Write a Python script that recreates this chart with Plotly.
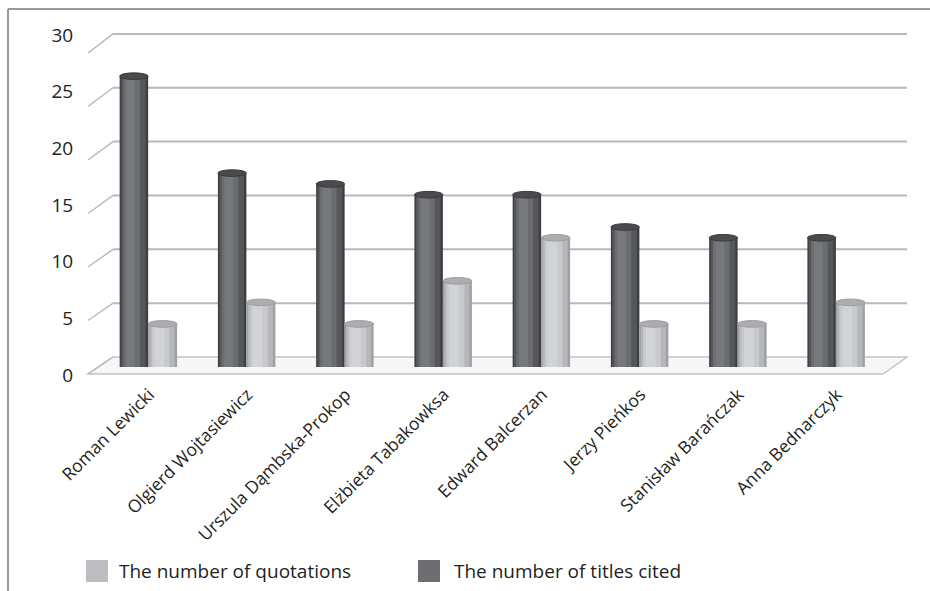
import plotly.graph_objects as go

authors = ["Roman Lewicki", "Olgierd Wojtasiewicz", "Urszula Dąmbska-Prokop",
           "Elżbieta Tabakowksa", "Edward Balcerzan", "Jerzy Pieńkos",
           "Stanisław Barańczak", "Anna Bednarczyk"]
titles_cited = [27, 18, 17, 16, 16, 13, 12, 12]
quotations = [4, 6, 4, 8, 12, 4, 4, 6]
y_ticks = [0, 5, 10, 15, 20, 25, 30]

W, H = 930, 591
L, R, T, B = 100, 44, 20, 211          # plot area 100..886 x 20..380
PW = W - L - R
PH = H - T - B
PX_UNIT = 10.77                          # px per value unit
BAR_BASE_PX = 367
lo = -(T + PH - BAR_BASE_PX) / PX_UNIT
hi = lo + PH / PX_UNIT

def px2paper_x(px):
    return (px - L) / PW

def px2val(py):
    return (BAR_BASE_PX - py) / PX_UNIT

fig = go.Figure()

# cylinder-like layered bars
dark_layers = [(-0.300, 0.290, "#3e3f42"), (-0.285, 0.250, "#55575b"),
               (-0.262, 0.170, "#6a6c70"), (-0.235, 0.090, "#76787c")]
light_layers = [(-0.010, 0.295, "#9fa0a3"), (0.005, 0.255, "#b6b7ba"),
                (0.028, 0.180, "#c8c9cb"), (0.055, 0.100, "#d2d3d5")]

for k, (off, w, c) in enumerate(dark_layers):
    fig.add_trace(go.Bar(x=authors, y=titles_cited, offset=off, width=w,
                         marker=dict(color=c, line=dict(width=0)),
                         name="The number of titles cited", showlegend=False,
                         hoverinfo="skip" if k else None))
for k, (off, w, c) in enumerate(light_layers):
    fig.add_trace(go.Bar(x=authors, y=quotations, offset=off, width=w,
                         marker=dict(color=c, line=dict(width=0)),
                         name="The number of quotations", showlegend=False,
                         hoverinfo="skip" if k else None))

# label axis (front scale)
LBL0_PX, LBL_UNIT = 375, 11.33
lo2 = -(T + PH - LBL0_PX) / LBL_UNIT
hi2 = lo2 + PH / LBL_UNIT

shapes = []
# floor
shapes.append(dict(type="path", xref="paper", yref="y",
                   path=f"M {px2paper_x(88)},{px2val(374)} L {px2paper_x(883)},{px2val(374)} "
                        f"L {px2paper_x(907)},{px2val(357)} L {px2paper_x(113)},{px2val(357)} Z",
                   fillcolor="#f7f7f7", line=dict(color="#c4c4c4", width=1.5), layer="below"))
for v in y_ticks:
    yb = px2val(357 - PX_UNIT * v)
    yf = px2val(374 - 10.7 * v)
    if v > 0:
        shapes.append(dict(type="line", xref="paper", yref="y",
                           x0=px2paper_x(113), x1=px2paper_x(907), y0=yb, y1=yb,
                           line=dict(color="#b9b9b9", width=2), layer="below"))
    shapes.append(dict(type="line", xref="paper", yref="y",
                       x0=px2paper_x(88), x1=px2paper_x(113), y0=yf, y1=yb,
                       line=dict(color="#b9b9b9", width=1.5), layer="below"))

# elliptical caps on cylinders (top faces)
CAP_H = 0.62
for i, v in enumerate(titles_cited):
    off, w, _ = dark_layers[0]
    shapes.append(dict(type="circle", xref="x", yref="y",
                       x0=i + off, x1=i + off + w, y0=v - CAP_H / 2, y1=v + CAP_H / 2,
                       fillcolor="#4a4b4e", line=dict(color="#3a3b3d", width=1)))
for i, v in enumerate(quotations):
    off, w, _ = light_layers[0]
    shapes.append(dict(type="circle", xref="x", yref="y",
                       x0=i + off, x1=i + off + w, y0=v - CAP_H / 2, y1=v + CAP_H / 2,
                       fillcolor="#acadb0", line=dict(color="#9d9ea1", width=1)))

# outer frame
shapes.append(dict(type="line", xref="paper", yref="paper",
                   x0=px2paper_x(8), x1=px2paper_x(930), y0=1 + (T - 9) / PH, y1=1 + (T - 9) / PH,
                   line=dict(color="#9a9a9a", width=2)))
shapes.append(dict(type="line", xref="paper", yref="paper",
                   x0=px2paper_x(8), x1=px2paper_x(8), y0=1 + (T - 9) / PH, y1=-(H - T - PH) / PH,
                   line=dict(color="#9a9a9a", width=2)))

# legend (manual)
def py2paper(py):
    return 1 - (py - T) / PH

legend_items = [("The number of quotations", "#bcbdc0", 86, 120),
                ("The number of titles cited", "#6d6e71", 418, 455)]
annotations = []
for text, col, sx, tx in legend_items:
    shapes.append(dict(type="rect", xref="paper", yref="paper",
                       x0=px2paper_x(sx), x1=px2paper_x(sx + 22),
                       y0=py2paper(582), y1=py2paper(560),
                       fillcolor=col, line=dict(width=0)))
    annotations.append(dict(xref="paper", yref="paper", x=px2paper_x(tx - 3), y=py2paper(571),
                            text=text, showarrow=False, xanchor="left", yanchor="middle",
                            font=dict(size=19, color="#231f20", family="Open Sans")))

fig.update_layout(
    width=W, height=H,
    margin=dict(l=L, r=R, t=T, b=B),
    paper_bgcolor="white", plot_bgcolor="rgba(0,0,0,0)",
    barmode="overlay",
    showlegend=False,
    font=dict(family="Open Sans", color="#231f20"),
    xaxis=dict(type="category", range=[-0.5, 7.5], showgrid=False, zeroline=False,
               showline=False, tickangle=-45, ticks="", ticklen=0,
               tickfont=dict(size=17.5, color="#231f20")),
    yaxis=dict(range=[lo, hi], showgrid=False, zeroline=False, showline=False,
               showticklabels=False, ticks=""),
    yaxis2=dict(range=[lo2, hi2], overlaying="y", side="left", showgrid=False,
                zeroline=False, showline=False, tickvals=y_ticks,
                ticks="outside", ticklen=22, tickcolor="rgba(0,0,0,0)",
                tickfont=dict(size=19, color="#231f20")),
    shapes=shapes,
    annotations=annotations,
)
# invisible trace so the label axis is drawn
fig.add_trace(go.Scatter(x=[authors[0]], y=[0], yaxis="y2", mode="markers",
                         marker=dict(opacity=0), showlegend=False, hoverinfo="skip"))

fig.write_html("out.html")
